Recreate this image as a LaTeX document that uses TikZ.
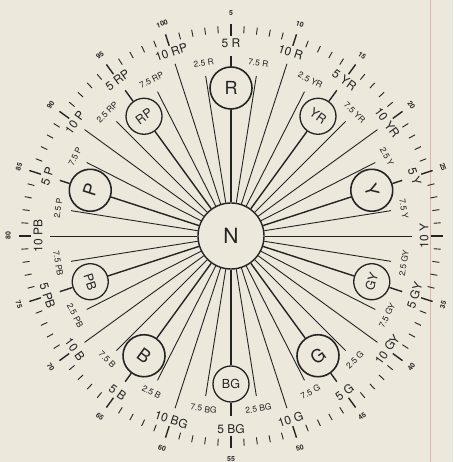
\documentclass[tikz,border=0pt]{standalone}
\usepackage{fontspec}
\setmainfont{TeX Gyre Heros}
\definecolor{paper}{HTML}{ECE8DC}
\definecolor{ink}{HTML}{242424}
\definecolor{fold}{HTML}{D6B8AA}
\tikzset{
  spoke/.style={ink, line width=0.9pt},
  mainspoke/.style={ink, line width=1.4pt},
  hue/.style={circle, draw=ink, fill=paper, line width=1.6pt, minimum size=42pt,
    inner sep=0pt, font=\fontsize{18}{18}\selectfont},
  subhue/.style={hue, line width=1.3pt, minimum size=36pt, font=\fontsize{12.5}{12.5}\selectfont},
  biglabel/.style={inner sep=0pt, font=\fontsize{12}{12}\selectfont},
  smalllabel/.style={inner sep=0pt, font=\fontsize{8.5}{8.5}\selectfont},
  numlabel/.style={inner sep=0pt, font=\fontsize{7}{7}\selectfont\bfseries},
  huetick/.style={ink, line width=0.9pt},
  bigtick/.style={ink, line width=1.4pt}
}
\begin{document}
\begin{tikzpicture}[x=1pt, y=1pt, text=ink]
    \fill[paper] (-231,-226) rectangle (222,236);
    \useasboundingbox (-231,-226) rectangle (222,236);
    \draw[fold, line width=0.6pt] (199,-226) -- (199,236);
    % outer scale
    \foreach \t in {1,...,100} {
        \pgfmathsetmacro\a{108-3.6*\t}
        \pgfmathsetmacro\m{mod(\t,5)}
        \ifdim\m pt=0pt
            \draw[bigtick] (\a:200) -- (\a:212);
        \else
            \draw[huetick] (\a:203) -- (\a:210);
        \fi
    }
    \foreach \t in {5,10,15,20,25,35,40,45,50,55,60,65,70,75,80,85,90,95,100} {
        \pgfmathsetmacro\a{108-3.6*\t}
        \pgfmathsetmacro\r{\a>0.5 ? \a-90 : (\a>-179.5 ? \a+90 : \a+270)}
        \node[numlabel, rotate=\r] (num\t) at (\a:223) {\t};
    }
    \node[circle, draw=ink, fill=paper, line width=1.4pt, minimum size=66pt,
        font=\fontsize{21}{21}\selectfont] (N) at (0,0) {N};
    % hue circles at 5
    \foreach \fam/\sty [count=\k from 0] in {R/hue,YR/subhue,Y/hue,GY/subhue,G/hue,
        BG/subhue,B/hue,PB/subhue,P/hue,RP/subhue} {
        \pgfmathsetmacro\a{108-3.6*(10*\k+5)}
        \pgfmathsetmacro\r{\a>0.5 ? \a-90 : (\a>-179.5 ? \a+90 : \a+270)}
        \node[\sty, rotate=\r] (\fam) at (\a:148) {\fam};
        \coordinate (\fam-b-end) at (\a:180);
        \node[biglabel, rotate=\r] (\fam-b) at (\a:193) {5\ \fam};
        \draw[mainspoke] (N) -- (\fam);
        \draw[mainspoke] (\fam) -- (\fam-b-end);
    }
    % other steps
    \foreach \fam [count=\k from 0] in {R,YR,Y,GY,G,BG,B,PB,P,RP} {
        \foreach \s/\n/\len/\dist/\sty in {2.5/a/162/175/smalllabel,
            7.5/c/162/175/smalllabel, 10/d/181/193/biglabel} {
            \pgfmathsetmacro\a{108-3.6*(10*\k+\s)}
            \pgfmathsetmacro\r{\a>0.5 ? \a-90 : (\a>-179.5 ? \a+90 : \a+270)}
            \coordinate (\fam-\n-end) at (\a:\len);
            \node[\sty, rotate=\r] (\fam-\n) at (\a:\dist) {\s\ \fam};
            \draw[spoke] (N) -- (\fam-\n-end);
        }
    }
\end{tikzpicture}
\end{document}
